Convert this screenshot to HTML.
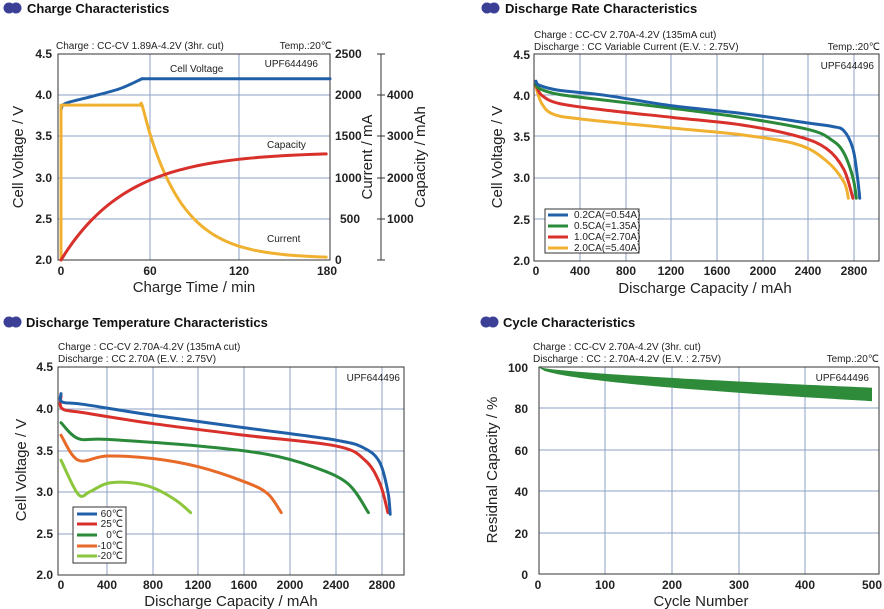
<!DOCTYPE html>
<html><head><meta charset="utf-8"><style>
html,body{margin:0;padding:0;background:#fff}
svg{display:block;font-family:"Liberation Sans",Arial,sans-serif}
.t{font-weight:bold;font-size:13px;fill:#111}
.s{font-size:10px;fill:#222}
.tk{font-weight:bold;font-size:12px;fill:#222}
.al{font-size:15px;fill:#222}
.g{stroke:#8ea2c4;stroke-width:1;fill:none}
.b{stroke:#333;stroke-width:1;fill:none}
.c{fill:none;stroke-width:3;stroke-linecap:round;stroke-linejoin:round}
</style></head><body>
<svg id="s" width="884" height="609" viewBox="0 0 884 609" xmlns="http://www.w3.org/2000/svg">
<g fill="#3b3f96"><circle cx="9" cy="8" r="5.5"/><circle cx="16" cy="8" r="5.5"/>
<circle cx="487" cy="8" r="5.5"/><circle cx="494" cy="8" r="5.5"/>
<circle cx="9" cy="322" r="5.5"/><circle cx="16" cy="322" r="5.5"/>
<circle cx="486" cy="322" r="5.5"/><circle cx="493" cy="322" r="5.5"/></g>
<text class="t" x="27" y="13">Charge Characteristics</text>
<text class="t" x="505" y="13">Discharge Rate Characteristics</text>
<text class="t" x="26" y="327">Discharge Temperature Characteristics</text>
<text class="t" x="503" y="327">Cycle Characteristics</text>

<g id="p1">
<path class="g" d="M58 95H330M58 136H330M58 178H330M58 219H330M150 54V260M239 54V260"/>
<rect class="b" x="58" y="54" width="272" height="206"/>
<text class="s" x="56" y="49">Charge : CC-CV 1.89A-4.2V (3hr. cut)</text>
<text class="s" x="332" y="49" text-anchor="end">Temp.:20℃</text>
<text class="s" x="318" y="67" text-anchor="end" font-size="11">UPF644496</text>
<text class="s" x="170" y="72" font-size="10">Cell Voltage</text>
<text class="s" x="267" y="148">Capacity</text>
<text class="s" x="267" y="242">Current</text>
<g class="tk" text-anchor="end"><text x="52" y="58">4.5</text><text x="52" y="99">4.0</text><text x="52" y="140">3.5</text><text x="52" y="182">3.0</text><text x="52" y="223">2.5</text><text x="52" y="264">2.0</text></g>
<g class="tk" text-anchor="middle"><text x="61" y="275">0</text><text x="150" y="275">60</text><text x="239" y="275">120</text><text x="327" y="275">180</text></g>
<g class="tk" text-anchor="start" font-size="10.5"><text x="335" y="58">2500</text><text x="335" y="99">2000</text><text x="335" y="140">1500</text><text x="335" y="182">1000</text><text x="340" y="223">500</text><text x="335" y="264">0</text></g>
<path class="b" d="M381 54V260M377 54H385M377 95H385M377 136H385M377 178H385M377 219H385M377 260H385"/>
<g class="tk" font-size="10"><text x="387" y="99">4000</text><text x="387" y="140">3000</text><text x="387" y="182">2000</text><text x="387" y="223">1000</text></g>
<text class="al" x="194" y="292" text-anchor="middle">Charge Time / min</text>
<text class="al" transform="translate(23,157) rotate(-90)" text-anchor="middle">Cell Voltage / V</text>
<text class="al" transform="translate(372,157) rotate(-90)" text-anchor="middle">Current / mA</text>
<text class="al" transform="translate(425,157) rotate(-90)" text-anchor="middle">Capacity / mAh</text>
</g>

<g>
<path class="g" d="M534 95H879M534 136H879M534 178H879M534 219H879M580 54V261M626 54V261M671 54V261M717 54V261M763 54V261M808 54V261M854 54V261"/>
<rect class="b" x="534" y="54" width="345" height="207"/>
<text class="s" x="534" y="38">Charge : CC-CV 2.70A-4.2V (135mA cut)</text>
<text class="s" x="534" y="50">Discharge : CC Variable Current (E.V. : 2.75V)</text>
<text class="s" x="880" y="50" text-anchor="end">Temp.:20℃</text>
<text class="s" x="874" y="69" text-anchor="end" font-size="11">UPF644496</text>
<g class="tk" text-anchor="end"><text x="530" y="59">4.5</text><text x="530" y="100">4.0</text><text x="530" y="141">3.5</text><text x="530" y="182">3.0</text><text x="530" y="224">2.5</text><text x="530" y="265">2.0</text></g>
<g class="tk" text-anchor="middle"><text x="536" y="275">0</text><text x="580" y="275">400</text><text x="626" y="275">800</text><text x="671" y="275">1200</text><text x="717" y="275">1600</text><text x="763" y="275">2000</text><text x="808" y="275">2400</text><text x="854" y="275">2800</text></g>
<text class="al" x="705" y="293" text-anchor="middle">Discharge Capacity / mAh</text>
<text class="al" transform="translate(502,157) rotate(-90)" text-anchor="middle">Cell Voltage / V</text>
<rect x="545" y="209" width="94" height="44" fill="#fff" stroke="#333"/>
<g stroke-width="3"><line x1="548" y1="215" x2="568" y2="215" stroke="#2060a8"/><line x1="548" y1="226" x2="568" y2="226" stroke="#2a8a3a"/><line x1="548" y1="237" x2="568" y2="237" stroke="#d8302a"/><line x1="548" y1="248" x2="568" y2="248" stroke="#f0b030"/></g>
<g class="s" font-size="9.5"><text x="574" y="218">0.2CA(=0.54A)</text><text x="574" y="229">0.5CA(=1.35A)</text><text x="574" y="240">1.0CA(=2.70A)</text><text x="574" y="251">2.0CA(=5.40A)</text></g>
</g>

<g>
<path class="g" d="M58 409H404M58 451H404M58 492H404M58 534H404M107 367V575M153 367V575M198 367V575M244 367V575M290 367V575M336 367V575M382 367V575"/>
<rect class="b" x="58" y="367" width="346" height="208"/>
<text class="s" x="58" y="350">Charge : CC-CV 2.70A-4.2V (135mA cut)</text>
<text class="s" x="58" y="362">Discharge : CC 2.70A (E.V. : 2.75V)</text>
<text class="s" x="400" y="381" text-anchor="end" font-size="11">UPF644496</text>
<g class="tk" text-anchor="end"><text x="53" y="371">4.5</text><text x="53" y="413">4.0</text><text x="53" y="455">3.5</text><text x="53" y="496">3.0</text><text x="53" y="538">2.5</text><text x="53" y="579">2.0</text></g>
<g class="tk" text-anchor="middle"><text x="61" y="589">0</text><text x="107" y="589">400</text><text x="153" y="589">800</text><text x="198" y="589">1200</text><text x="244" y="589">1600</text><text x="290" y="589">2000</text><text x="336" y="589">2400</text><text x="382" y="589">2800</text></g>
<text class="al" x="231" y="606" text-anchor="middle">Discharge Capacity / mAh</text>
<text class="al" transform="translate(26,470) rotate(-90)" text-anchor="middle">Cell Voltage / V</text>
<rect x="73" y="507" width="53" height="56" fill="#fff" stroke="#333"/>
<g stroke-width="3"><line x1="77" y1="514" x2="97" y2="514" stroke="#2060a8"/><line x1="77" y1="524" x2="97" y2="524" stroke="#d8302a"/><line x1="77" y1="535" x2="97" y2="535" stroke="#2a8a3a"/><line x1="77" y1="546" x2="97" y2="546" stroke="#e86a28"/><line x1="77" y1="556" x2="97" y2="556" stroke="#8cc63c"/></g>
<g class="s" font-size="9" text-anchor="end"><text x="123" y="517">60℃</text><text x="123" y="527">25℃</text><text x="123" y="538">0℃</text><text x="123" y="549">-10℃</text><text x="123" y="559">-20℃</text></g>
</g>

<g>
<path class="g" d="M539 408H879M539 450H879M539 491H879M539 533H879M605 367V574M672 367V574M739 367V574M805 367V574"/>
<rect class="b" x="539" y="367" width="340" height="207"/>
<text class="s" x="533" y="350">Charge : CC-CV 2.70A-4.2V (3hr. cut)</text>
<text class="s" x="533" y="362">Discharge : CC : 2.70A-4.2V (E.V. : 2.75V)</text>
<text class="s" x="879" y="362" text-anchor="end">Temp.:20℃</text>
<text class="s" x="869" y="381" text-anchor="end" font-size="11">UPF644496</text>
<g class="tk" text-anchor="end"><text x="528" y="372">100</text><text x="528" y="413">80</text><text x="528" y="455">60</text><text x="528" y="496">40</text><text x="528" y="538">20</text><text x="528" y="579">0</text></g>
<g class="tk" text-anchor="middle"><text x="538" y="589">0</text><text x="605" y="589">100</text><text x="672" y="589">200</text><text x="739" y="589">300</text><text x="805" y="589">400</text><text x="872" y="589">500</text></g>
<text class="al" x="701" y="606" text-anchor="middle">Cycle Number</text>
<text class="al" transform="translate(497,470) rotate(-90)" text-anchor="middle">Residnal Capacity / %</text>
</g>
<g id="curves"></g>
</svg>
<script>
function sm(pts){var d="M"+pts[0][0].toFixed(1)+" "+pts[0][1].toFixed(1);
for(var i=0;i<pts.length-1;i++){var p0=pts[Math.max(i-1,0)],p1=pts[i],p2=pts[i+1],p3=pts[Math.min(i+2,pts.length-1)];
var c1=[p1[0]+(p2[0]-p0[0])/6,p1[1]+(p2[1]-p0[1])/6],c2=[p2[0]-(p3[0]-p1[0])/6,p2[1]-(p3[1]-p1[1])/6];
d+="C"+c1.join(" ")+" "+c2.join(" ")+" "+p2.join(" ");}return d;}
var out="";
function add(pts,col,w){out+='<path class="c" stroke="'+col+'" stroke-width="'+(w||3)+'" d="'+sm(pts)+'"/>';}
var X1=function(t){return 61+t*1.4733},Y1=function(v){return 260-(v-2)*82.4},YI=function(i){return 260-i*0.0824};
add([[X1(0),Y1(3.82)],[X1(3),Y1(3.9)],[X1(20),Y1(3.98)],[X1(40),Y1(4.08)],[X1(55),Y1(4.2)]],"#2060a8");
out+='<path class="c" stroke="#2060a8" d="M'+X1(55)+' '+Y1(4.2)+'H330"/>';
var cp=[[X1(0),YI(0)],[X1(0),YI(1880)],[X1(54),YI(1880)]];
for(var t=55;t<=180;t+=5){cp.push([X1(t),YI(20+1860*Math.exp(-(t-55)/26))]);}
out+='<path class="c" stroke="#f0b030" d="M'+cp.slice(0,3).map(function(p){return p.join(" ")}).join("L")+'"/>';
add(cp.slice(2),"#f0b030");
var rp=[];for(var t=0;t<=180;t+=5){var cap=2620*(1-Math.exp(-t/45));rp.push([X1(t),260-cap*0.04125]);}
add(rp,"#d8302a");
var X2=function(c){return 536+c*0.114};
function R(a,col){add(a.map(function(p){return [X2(p[0]),Y1(p[1])]}),col);}
R([[0,4.1],[50,3.9],[150,3.77],[400,3.71],[1200,3.6],[1800,3.52],[2300,3.4],[2550,3.2],[2700,2.95],[2740,2.75]],"#f0b030");
R([[0,4.12],[50,4.0],[200,3.9],[600,3.82],[1200,3.73],[1800,3.64],[2300,3.5],[2550,3.35],[2700,3.1],[2780,2.75]],"#d8302a");
R([[0,4.14],[30,4.08],[200,4.01],[600,3.94],[1200,3.84],[1800,3.73],[2400,3.58],[2600,3.45],[2700,3.3],[2780,3.0],[2810,2.75]],"#2a8a3a");
R([[0,4.17],[30,4.12],[200,4.06],[600,4.0],[1200,3.87],[1800,3.78],[2400,3.66],[2600,3.62],[2700,3.57],[2780,3.35],[2820,3.0],[2840,2.75]],"#2060a8");
var X3=function(c){return 61+c*0.1147},Y3=function(v){return 575-(v-2)*83.2};
function T(a,col){add(a.map(function(p){return [X3(p[0]),Y3(p[1])]}),col);}
T([[0,3.38],[150,2.97],[250,3.0],[400,3.1],[600,3.11],[800,3.05],[1000,2.9],[1130,2.75]],"#8cc63c");
T([[0,3.68],[150,3.38],[400,3.43],[800,3.4],[1200,3.3],[1600,3.12],[1800,2.98],[1920,2.75]],"#e86a28");
T([[0,3.83],[150,3.64],[400,3.63],[1200,3.55],[1800,3.45],[2200,3.3],[2500,3.1],[2680,2.75]],"#2a8a3a");
T([[0,4.15],[10,4.0],[200,3.95],[800,3.82],[1600,3.68],[2400,3.55],[2650,3.38],[2780,3.1],[2850,2.75]],"#d8302a");
T([[0,4.18],[10,4.08],[200,4.05],[800,3.92],[1600,3.77],[2400,3.62],[2650,3.52],[2780,3.35],[2850,3.0],[2870,2.73]],"#2060a8");
var X4=function(n){return 538+n*0.668},Y4=function(p){return 574-p*2.07};
var up=[],lo=[];for(var n=0;n<=500;n+=10){up.push(X4(n)+" "+Y4(100-10*Math.pow(n/500,0.7)).toFixed(1));lo.push(X4(n)+" "+Y4(100-16.5*Math.pow(n/500,0.55)).toFixed(1));}
out+='<path fill="#2e8b3a" d="M'+up.join("L")+"L"+lo.reverse().join("L")+'Z"/>';
document.getElementById("curves").innerHTML=out;
</script>
</body></html>
